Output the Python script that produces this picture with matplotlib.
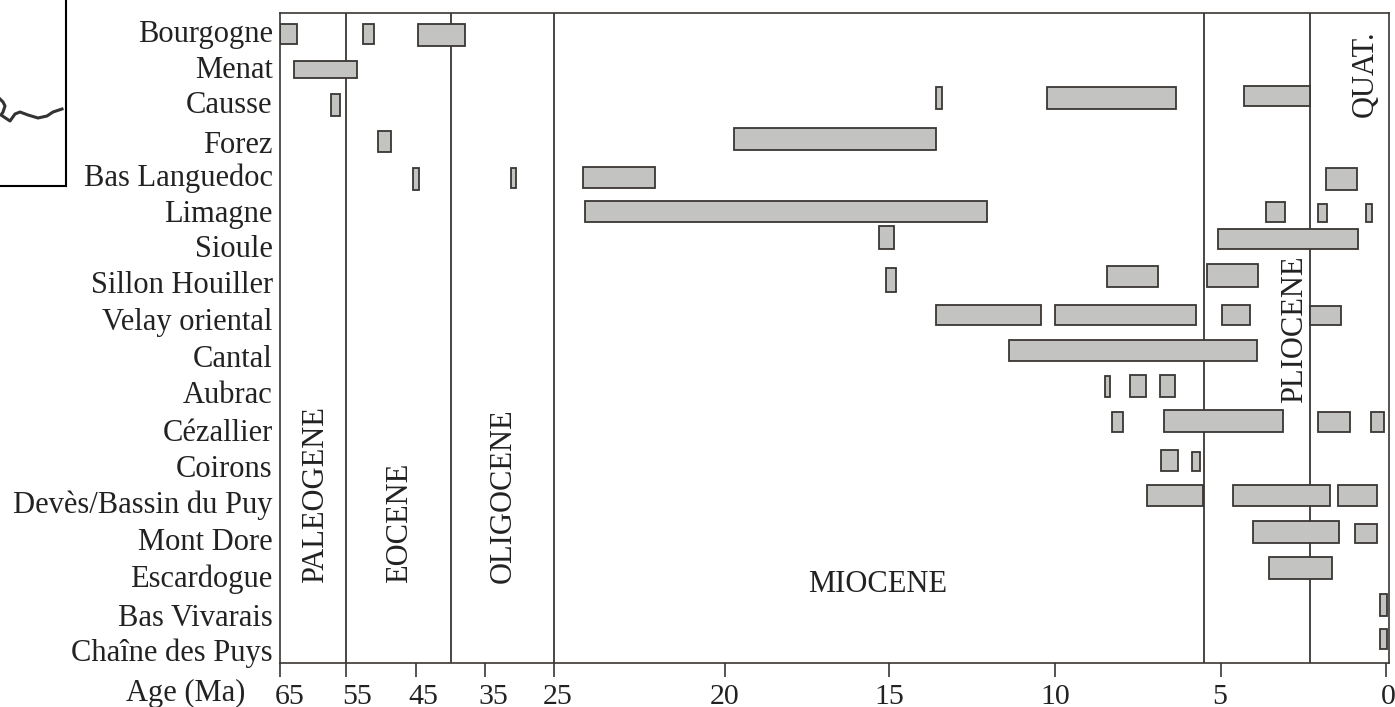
import matplotlib
matplotlib.use("Agg")
import matplotlib.pyplot as plt
from matplotlib.ticker import NullLocator
from matplotlib.transforms import ScaledTranslation
import numpy as np

# age ranges (Ma), oldest first in each pair
bourgogne = [(65, 62.45), (52.57, 51.07), (44.71, 37.9)]
menat = [(62.83, 53.5)]
causse = [(57.26, 55.9), (13.58, 13.41), (10.24, 6.36), (4.3, 2.31)]
forez = [(50.43, 48.64), (19.73, 13.58)]
bas_languedoc = [(45.43, 44.57), (31.2, 30.47), (24.14, 22.04), (1.83, 0.89)]
limagne = [(24.08, 12.05), (3.64, 3.06), (2.07, 1.8), (0.61, 0.43)]
sioule = [(15.29, 14.85), (5.09, 0.86)]
sillon_houiller = [(15.09, 14.79), (8.43, 6.9), (5.42, 3.88)]
velay_oriental = [(13.58, 10.42), (10, 5.75), (4.97, 4.12), (2.31, 1.37)]
cantal = [(11.4, 3.91)]
aubrac = [(8.49, 8.34), (7.74, 7.26), (6.84, 6.39)]
cezallier = [(8.28, 7.95), (6.72, 3.11), (2.07, 1.1), (0.46, 0.07)]
coirons = [(6.81, 6.3), (5.87, 5.63)]
deves = [(7.23, 5.54), (4.64, 1.7), (1.46, 0.28)]
mont_dore = [(4.03, 1.43), (0.95, 0.28)]
escardogue = [(3.55, 1.64)]
bas_vivarais = [(0.19, -0.02)]
chaine_des_puys = [(0.19, -0.02)]

sites = ["Bourgogne", "Menat", "Causse", "Forez", "Bas Languedoc", "Limagne",
         "Sioule", "Sillon Houiller", "Velay oriental", "Cantal", "Aubrac",
         "Cézallier", "Coirons", "Devès/Bassin du Puy", "Mont Dore",
         "Escardogue", "Bas Vivarais", "Chaîne des Puys"]
ranges = [bourgogne, menat, causse, forez, bas_languedoc, limagne, sioule,
          sillon_houiller, velay_oriental, cantal, aubrac, cezallier, coirons,
          deves, mont_dore, escardogue, bas_vivarais, chaine_des_puys]

boundaries = [55, 40, 25, 5.5, 2.3]
tick_ages = [65, 55, 45, 35, 25, 20, 15, 10, 5, 0]
periods = ["PALEOGENE", "EOCENE", "OLIGOCENE", "PLIOCENE", "QUAT."]
period_ages = [59.55, 47.3, 32.4, 2.78, 0.63]

# the axis is stretched by hand in the original, so knots for the scale
knot_ages = [-1, 0, 5, 10, 15, 20, 25, 35, 45, 55, 65]
knot_px = [1419.4, 1386.3, 1221, 1055, 889, 725, 553.5, 485, 416, 346, 279.6]
knot_px_neg = [-p for p in knot_px]


def forward(a):
    return np.interp(a, knot_ages, knot_px_neg)


def inverse(p):
    return np.interp(p, knot_px_neg, knot_ages)


# layout: vertical extent of each box in pixels from the top
bar_spans = [
    [(24, 44), (24, 44), (24, 46)],
    [(61, 78)],
    [(94, 116), (87, 109), (87, 109), (86, 106)],
    [(131, 152), (128, 150)],
    [(168, 190), (168, 188), (167, 188), (168, 190)],
    [(201, 222), (202, 222), (204, 222), (204, 222)],
    [(226, 249), (229, 249)],
    [(268, 292), (266, 287), (264, 287)],
    [(305, 325), (305, 325), (305, 325), (306, 325)],
    [(340, 361)],
    [(376, 397), (375, 397), (375, 397)],
    [(412, 432), (410, 432), (412, 432), (412, 432)],
    [(450, 471), (452, 471)],
    [(485, 506), (485, 506), (485, 506)],
    [(521, 543), (524, 543)],
    [(557, 579)],
    [(594, 616)],
    [(629, 649)],
]
label_baselines = [42, 78, 113, 153, 186, 222, 257, 293, 330, 367, 403, 441,
                   477, 513, 550, 587, 626, 661]
tick_dx = [10, 11, 7, 8, 4, 0, 0, 0, -1, 2]

W, H = 1395, 707
plt.rcParams["font.family"] = ["Liberation Serif", "DejaVu Serif"]
dark = "#3a3634"
ink = "#222222"
fs = 22

fig = plt.figure(figsize=(W / 100, H / 100), dpi=100)
ax = fig.add_axes([279.6 / W, 1 - 662.5 / H, (1388.5 - 279.6) / W, 650 / H])
ax.set_xscale("function", functions=(forward, inverse))
ax.set_xlim(65, -0.066)
ax.set_ylim(662.5, 12.5)

for age in boundaries:
    ax.axvline(age, color=dark, lw=1.3, zorder=1)

for spans, pairs in zip(bar_spans, ranges):
    for (top, bottom), (old, young) in zip(spans, pairs):
        ax.barh((top + bottom) / 2, young - old, left=old, height=bottom - top,
                color="#c3c3c1", edgecolor=dark, linewidth=1.3, zorder=2)

for name, age in zip(periods, period_ages):
    if name == "QUAT.":
        ax.text(age, 117, name, rotation=90, ha="center", va="bottom", fontsize=fs, color=ink)
    elif name == "PLIOCENE":
        ax.text(age, 403, name, rotation=90, ha="center", va="bottom", fontsize=fs, color=ink)
    else:
        ax.text(age, 583, name, rotation=90, ha="center", va="bottom", fontsize=fs, color=ink)
ax.text(15.36, 584, "MIOCENE", ha="center", va="center", fontsize=fs, color=ink)

for s in ax.spines.values():
    s.set_color(dark)
    s.set_linewidth(1.2)

ax.set_xticks(tick_ages)
ax.set_xticklabels([str(t) for t in tick_ages], fontsize=21.5, color=ink)
ax.tick_params(axis="x", length=10, width=1.2, color=dark, pad=5.5)
ax.xaxis.set_minor_locator(NullLocator())
for label, dx in zip(ax.get_xticklabels(), tick_dx):
    label.set_transform(label.get_transform() + ScaledTranslation(dx / 100, 0, fig.dpi_scale_trans))

ax.set_yticks(label_baselines)
ax.set_yticklabels(sites, fontsize=fs, color=ink, va="baseline")
ax.tick_params(axis="y", length=0, pad=5)

fig.text(245 / W, 1 - 701 / H, "Age (Ma)", ha="right", va="baseline", fontsize=fs, color=ink)

# corner of the location map, cut off by the page edge
river_x = [0, 3, 5, 3, 1, 4, 10, 15, 20, 28, 38, 47, 53, 62]
river_y = [99, 102, 106, 112, 115, 117, 121, 114, 112, 115, 118, 116, 112, 109]
inset = fig.add_axes([0, 1 - 186 / H, 66 / W, 186 / H])
inset.set_xlim(0, 66)
inset.set_ylim(186, 0)
inset.plot(river_x, river_y, color="#333333", lw=2.2)
inset.set_xticks([])
inset.set_yticks([])
inset.spines["left"].set_visible(False)
inset.spines["top"].set_visible(False)
inset.spines["right"].set_linewidth(1.5)
inset.spines["bottom"].set_linewidth(1.5)

fig.savefig("out.png", dpi=100)
